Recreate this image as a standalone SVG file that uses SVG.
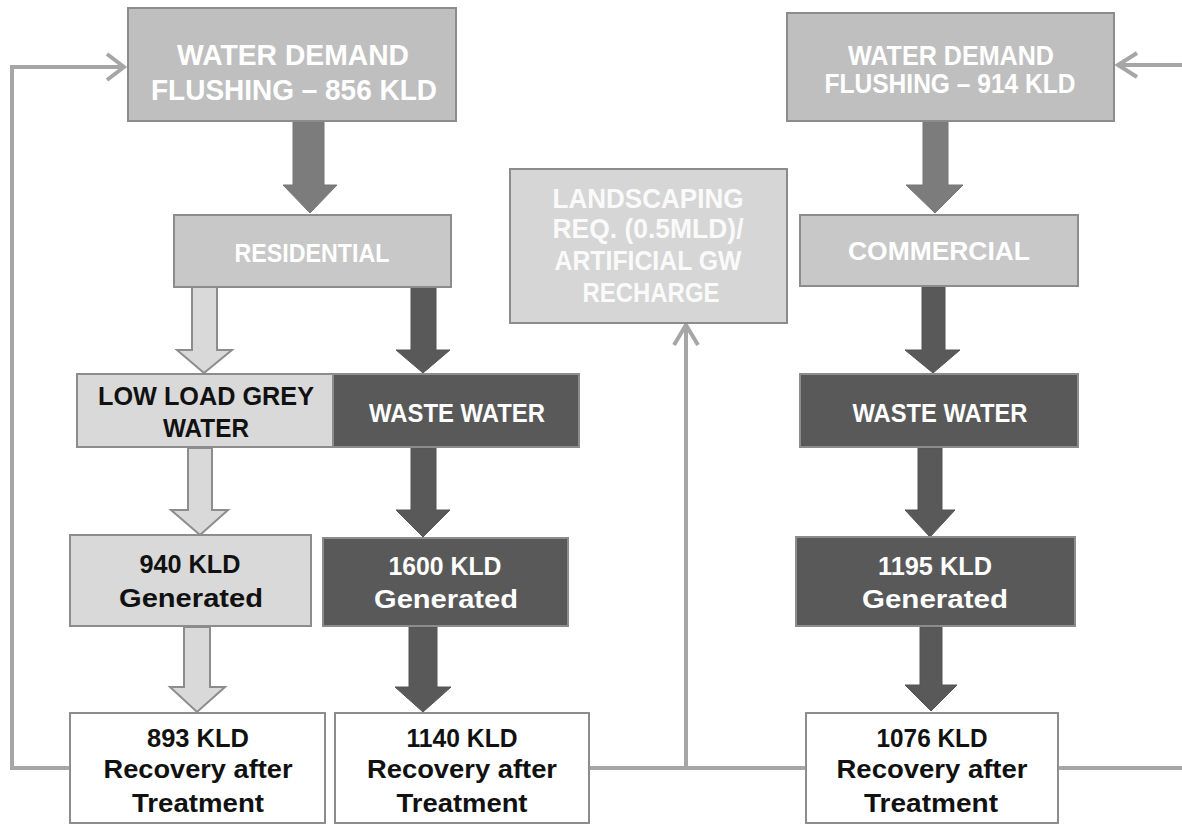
<svg xmlns="http://www.w3.org/2000/svg" width="1182" height="825" viewBox="0 0 1182 825">
<style>
.box{stroke:#8c8c8c;stroke-width:2}
.mid{fill:#bfbfbf}
.lite{fill:#c8c8c8}
.pale{fill:#d6d6d6}
.grey{fill:#d9d9d9}
.dark{fill:#595959}
.white{fill:#ffffff}
text{font-family:"Liberation Sans",Arial,sans-serif;font-weight:bold;text-anchor:middle}
.tw{fill:#ffffff}
.tp{fill:#fafafa}
.tb{fill:#111111}
.conn{fill:none;stroke:#a6a6a6;stroke-width:4;stroke-linejoin:miter}
.ar-mid{fill:#7c7c7c;stroke:#777;stroke-width:1}
.ar-dark{fill:#595959;stroke:#555;stroke-width:1}
.ar-lite{fill:#d9d9d9;stroke:#8c8c8c;stroke-width:2}
</style>
<rect width="1182" height="825" fill="#ffffff"/>
<g id="connectors">
  <path class="conn" d="M70 768 H12 V67 H124"/>
  <polyline class="conn" points="107,54 124,67 107,80"/>
  <path class="conn" d="M1058 768 H1182"/>
  <path class="conn" d="M1182 65 H1118"/>
  <polyline class="conn" points="1137,53 1118,65 1137,77"/>
  <path class="conn" d="M590 768 H806"/>
  <path class="conn" d="M686 768 V325"/>
  <polyline class="conn" points="674,345 686,325 698,345"/>
  <polygon class="ar-mid" points="293,121 324,121 324,185 337,185 310,213 283,185 293,185"/>
  <polygon class="ar-mid" points="923,121 948,121 948,185 963,185 935,213 906,185 923,185"/>
  <polygon class="ar-lite" points="192,287 217,287 217,350 232,350 204,373 177,350 192,350"/>
  <polygon class="ar-dark" points="411,287 436,287 436,350 450,350 423,373 396,350 411,350"/>
  <polygon class="ar-lite" points="188,448 212,448 212,510 228,510 200,535 171,510 188,510"/>
  <polygon class="ar-dark" points="411,448 436,448 436,510 450,510 423,537 396,510 411,510"/>
  <polygon class="ar-lite" points="184,627 210,627 210,687 225,687 197,712 170,687 184,687"/>
  <polygon class="ar-dark" points="409,627 437,627 437,687 451,687 423,712 395,687 409,687"/>
  <polygon class="ar-dark" points="922,287 945,287 945,350 960,350 933,373 905,350 922,350"/>
  <polygon class="ar-dark" points="918,448 942,448 942,510 955,510 930,537 905,510 918,510"/>
  <polygon class="ar-dark" points="920,627 942,627 942,685 957,685 931,711 905,685 920,685"/>
</g>
<g id="demand-residential">
  <rect class="box mid" x="128" y="8" width="328" height="113"/>
  <text class="tw" x="293" y="65" font-size="29" textLength="232" lengthAdjust="spacingAndGlyphs">WATER DEMAND</text>
  <text class="tw" x="294" y="100" font-size="29" textLength="286" lengthAdjust="spacingAndGlyphs">FLUSHING – 856 KLD</text>
</g>
<g id="demand-commercial">
  <rect class="box mid" x="787" y="13" width="327" height="108"/>
  <text class="tw" x="951" y="65" font-size="28" textLength="206" lengthAdjust="spacingAndGlyphs">WATER DEMAND</text>
  <text class="tw" x="950" y="93" font-size="27" textLength="251" lengthAdjust="spacingAndGlyphs">FLUSHING – 914 KLD</text>
</g>
<g id="residential">
  <rect class="box lite" x="174" y="215" width="277" height="72"/>
  <text class="tw" x="312" y="262" font-size="25" textLength="155" lengthAdjust="spacingAndGlyphs">RESIDENTIAL</text>
</g>
<g id="commercial">
  <rect class="box lite" x="800" y="215" width="278" height="71"/>
  <text class="tw" x="939" y="260" font-size="25" textLength="182" lengthAdjust="spacingAndGlyphs">COMMERCIAL</text>
</g>
<g id="landscaping">
  <rect class="box pale" x="510" y="169" width="277" height="154"/>
  <text class="tp" x="648" y="208" font-size="27" textLength="191" lengthAdjust="spacingAndGlyphs">LANDSCAPING</text>
  <text class="tp" x="648" y="238" font-size="27" textLength="191" lengthAdjust="spacingAndGlyphs">REQ. (0.5MLD)/</text>
  <text class="tp" x="648" y="270" font-size="27" textLength="187" lengthAdjust="spacingAndGlyphs">ARTIFICIAL GW</text>
  <text class="tp" x="651" y="302" font-size="27" textLength="137" lengthAdjust="spacingAndGlyphs">RECHARGE</text>
</g>
<g id="low-load-grey-water">
  <rect class="box grey" x="77" y="374" width="256" height="73"/>
  <text class="tb" x="206" y="405" font-size="25" textLength="216" lengthAdjust="spacingAndGlyphs">LOW LOAD GREY</text>
  <text class="tb" x="206" y="437" font-size="25" textLength="86" lengthAdjust="spacingAndGlyphs">WATER</text>
</g>
<g id="waste-water-res">
  <rect class="box dark" x="333" y="374" width="246" height="73"/>
  <text class="tw" x="457" y="422" font-size="25" textLength="176" lengthAdjust="spacingAndGlyphs">WASTE WATER</text>
</g>
<g id="waste-water-com">
  <rect class="box dark" x="800" y="374" width="278" height="73"/>
  <text class="tw" x="940" y="422" font-size="25" textLength="175" lengthAdjust="spacingAndGlyphs">WASTE WATER</text>
</g>
<g id="gen-940">
  <rect class="box grey" x="70" y="535" width="241" height="91"/>
  <text class="tb" x="190" y="573" font-size="25" textLength="101" lengthAdjust="spacingAndGlyphs">940 KLD</text>
  <text class="tb" x="191" y="607" font-size="25" textLength="144" lengthAdjust="spacingAndGlyphs">Generated</text>
</g>
<g id="gen-1600">
  <rect class="box dark" x="323" y="538" width="245" height="88"/>
  <text class="tw" x="445" y="575" font-size="25" textLength="113" lengthAdjust="spacingAndGlyphs">1600 KLD</text>
  <text class="tw" x="446" y="608" font-size="25" textLength="144" lengthAdjust="spacingAndGlyphs">Generated</text>
</g>
<g id="gen-1195">
  <rect class="box dark" x="796" y="537" width="279" height="89"/>
  <text class="tw" x="935" y="575" font-size="25" textLength="114" lengthAdjust="spacingAndGlyphs">1195 KLD</text>
  <text class="tw" x="935" y="608" font-size="25" textLength="146" lengthAdjust="spacingAndGlyphs">Generated</text>
</g>
<g id="rec-893">
  <rect class="box white" x="70" y="713" width="255" height="110"/>
  <text class="tb" x="198" y="747" font-size="25" textLength="102" lengthAdjust="spacingAndGlyphs">893 KLD</text>
  <text class="tb" x="198" y="778" font-size="25" textLength="189" lengthAdjust="spacingAndGlyphs">Recovery after</text>
  <text class="tb" x="198" y="812" font-size="25" textLength="132" lengthAdjust="spacingAndGlyphs">Treatment</text>
</g>
<g id="rec-1140">
  <rect class="box white" x="335" y="713" width="254" height="110"/>
  <text class="tb" x="462" y="747" font-size="25" textLength="111" lengthAdjust="spacingAndGlyphs">1140 KLD</text>
  <text class="tb" x="462" y="778" font-size="25" textLength="190" lengthAdjust="spacingAndGlyphs">Recovery after</text>
  <text class="tb" x="462" y="812" font-size="25" textLength="131" lengthAdjust="spacingAndGlyphs">Treatment</text>
</g>
<g id="rec-1076">
  <rect class="box white" x="806" y="713" width="252" height="110"/>
  <text class="tb" x="932" y="747" font-size="25" textLength="111" lengthAdjust="spacingAndGlyphs">1076 KLD</text>
  <text class="tb" x="932" y="778" font-size="25" textLength="191" lengthAdjust="spacingAndGlyphs">Recovery after</text>
  <text class="tb" x="931" y="812" font-size="25" textLength="134" lengthAdjust="spacingAndGlyphs">Treatment</text>
</g>
</svg>
